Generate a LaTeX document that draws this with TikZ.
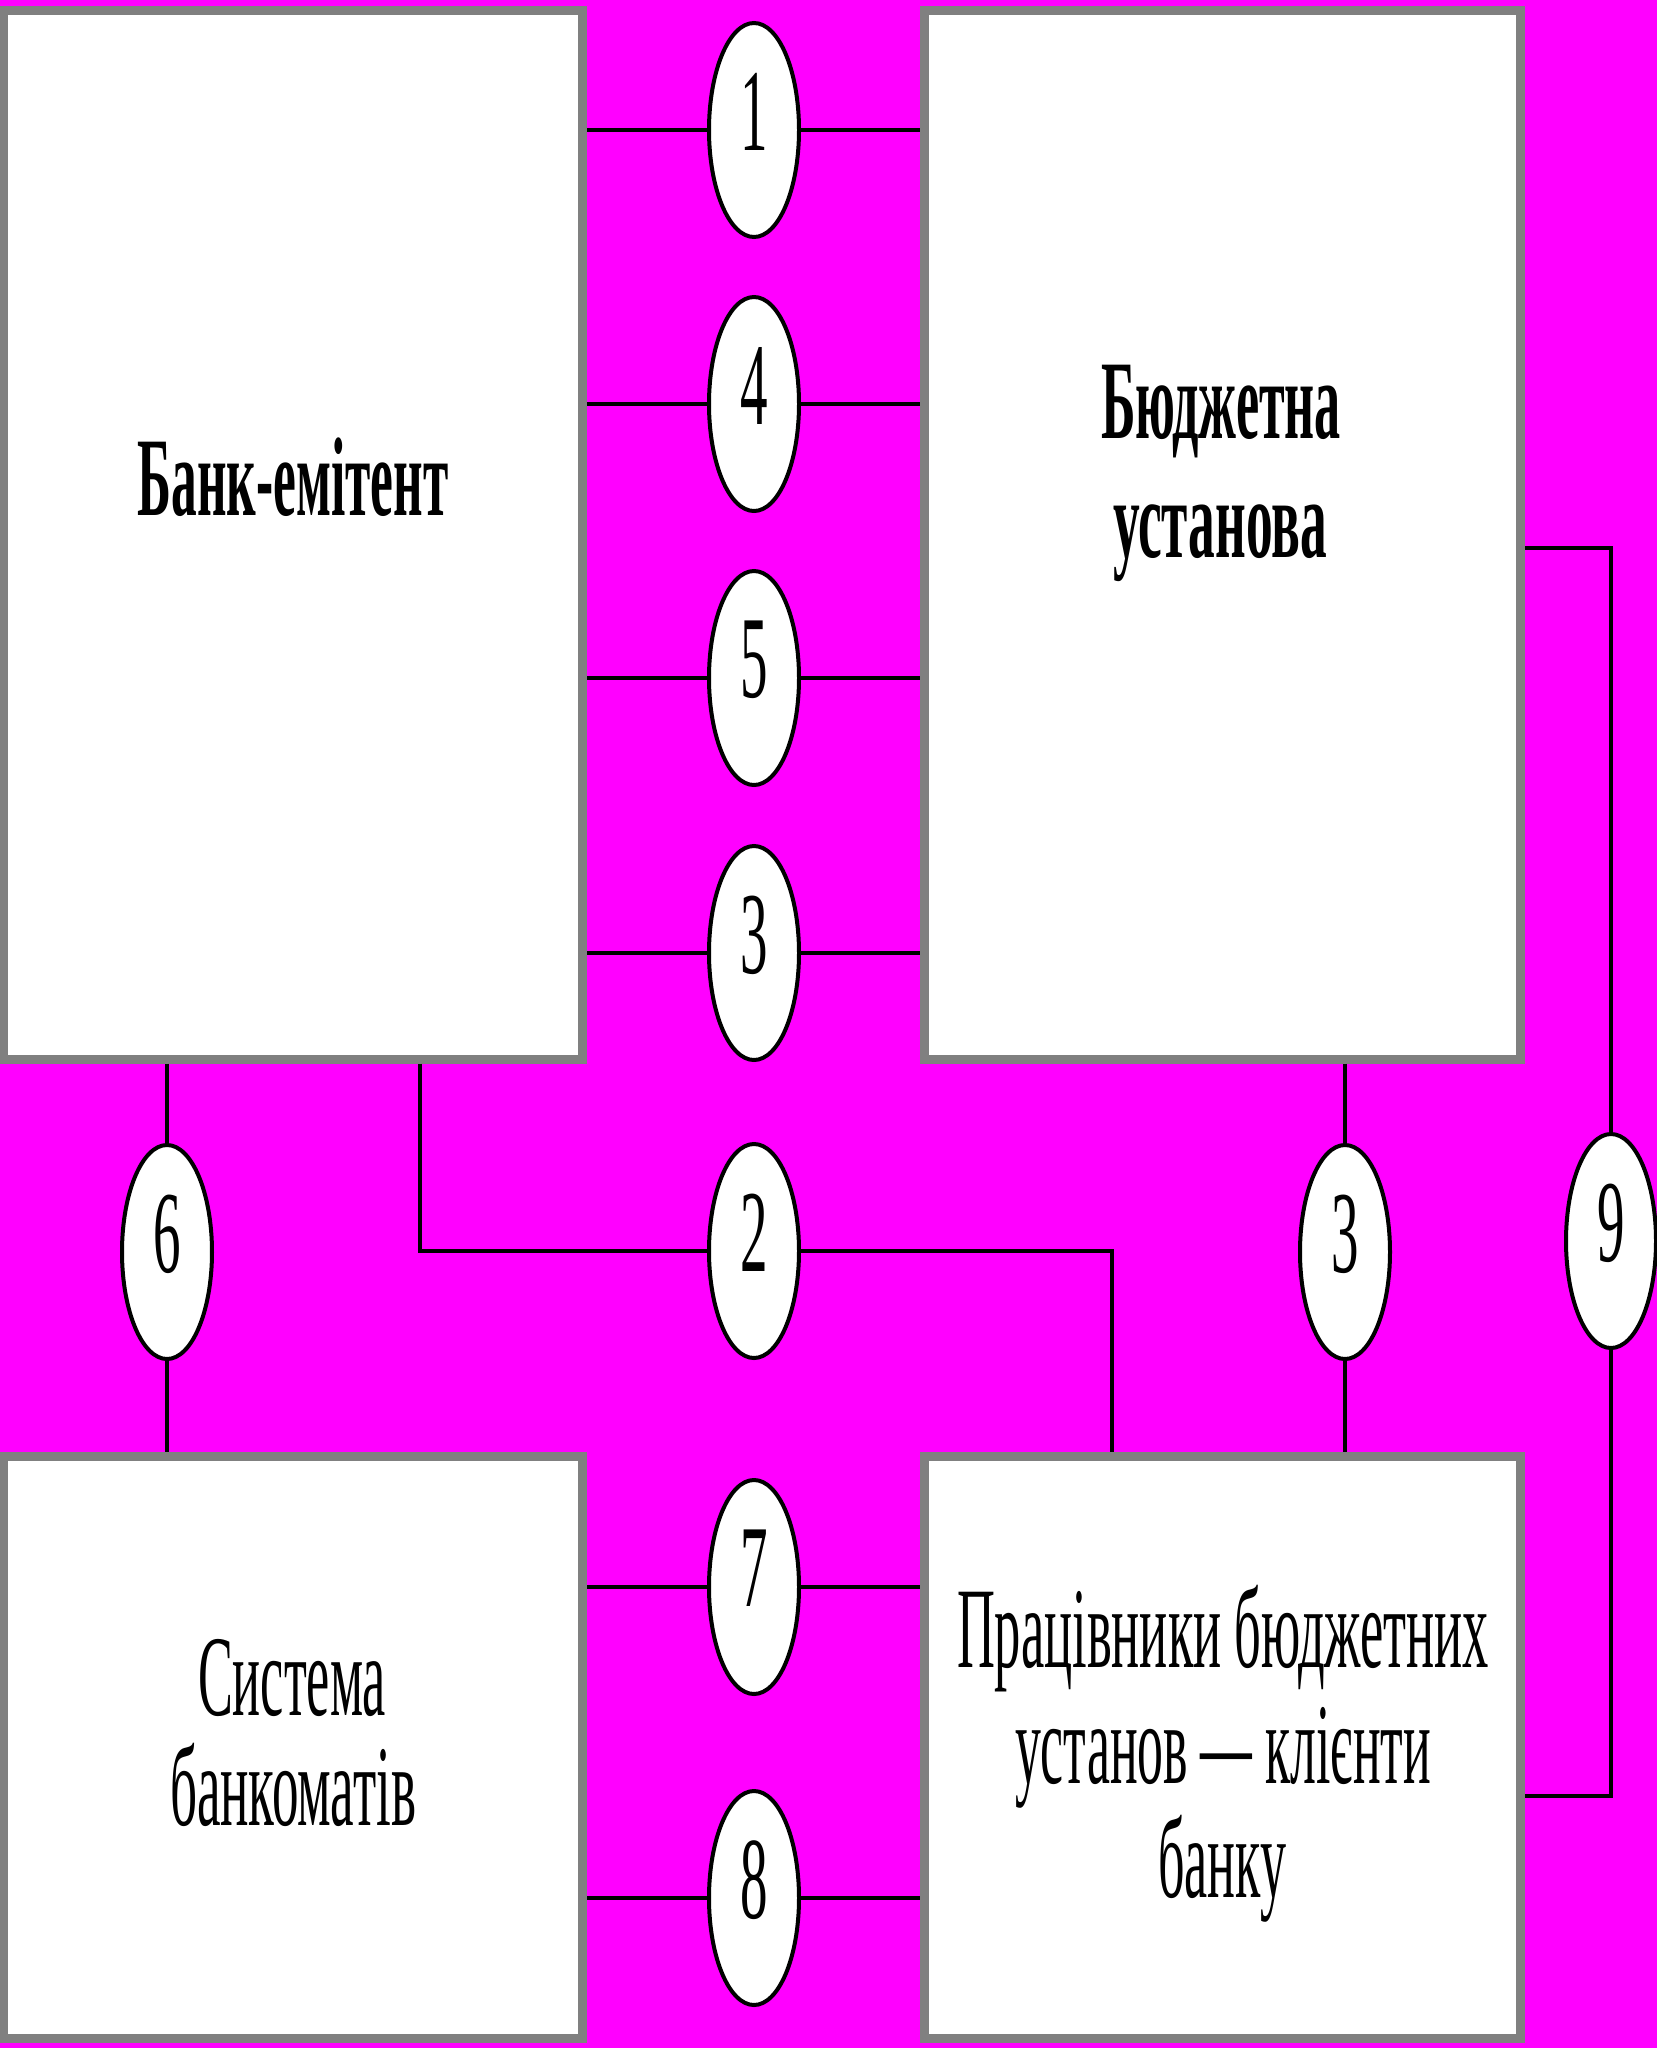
\documentclass[tikz,border=0pt]{standalone}
\usepackage{fontspec}
\setmainfont{Liberation Serif}
\usetikzlibrary{shapes.geometric}
\definecolor{bg}{RGB}{255,0,255}
\definecolor{bord}{RGB}{128,128,128}
\newcommand{\sqz}[2]{\resizebox{#1pt}{\height}{#2}}
\newcommand{\dg}[1]{\scalebox{0.47}[1]{#1}}
\begin{document}
\begin{tikzpicture}[x=1pt,y=-1pt,
 box/.style={draw=bord,line width=9pt,fill=white,rectangle,inner sep=0pt},
 oval/.style={ellipse,draw=black,line width=4pt,fill=white,inner sep=0pt,minimum width=90pt,minimum height=214pt,font=\fontsize{117}{117}\selectfont,text depth=37pt},
 conn/.style={line width=4pt,black},
 rtxt/.style={anchor=base,inner sep=0pt,font=\fontsize{115}{115}\selectfont},
 btxt/.style={anchor=base,inner sep=0pt,font=\fontsize{112}{112}\selectfont\bfseries}]
\useasboundingbox (0,0) rectangle (1657,2048);
\fill[bg] (0,0) rectangle (1657,2048);
% boxes
\node[box,minimum width=579pt,minimum height=1048.5pt] (bank) at (293,534.75) {};
\node[box,minimum width=596pt,minimum height=1048.5pt] (budget) at (1222.5,534.75) {};
\node[box,minimum width=579pt,minimum height=582.5pt] (atm) at (293,1747.25) {};
\node[box,minimum width=596pt,minimum height=582.5pt] (staff) at (1222.5,1747.25) {};
% ovals
\node[oval] (e1) at (754,130) {\dg{1}};
\node[oval] (e4) at (754,404) {\dg{4}};
\node[oval] (e5) at (754,678) {\dg{5}};
\node[oval] (e3a) at (754,953) {\dg{3}};
\node[oval] (e2) at (754,1251) {\dg{2}};
\node[oval] (e7) at (754,1587) {\dg{7}};
\node[oval] (e8) at (754,1898) {\dg{8}};
\node[oval] (e6) at (167,1252) {\dg{6}};
\node[oval] (e3b) at (1345,1252) {\dg{3}};
\node[oval] (e9) at (1611,1241) {\dg{9}};
% connectors
\foreach \e in {e1,e4,e5,e3a}{
  \draw[conn] (bank.east |- \e) -- (\e);
  \draw[conn] (\e) -- (budget.west |- \e);
}
\foreach \e in {e7,e8}{
  \draw[conn] (atm.east |- \e) -- (\e);
  \draw[conn] (\e) -- (staff.west |- \e);
}
\draw[conn] (bank.south -| e6) -- (e6);
\draw[conn] (e6) -- (atm.north -| e6);
\coordinate (b2) at (420,1251);
\coordinate (b2r) at (1112,1251);
\draw[conn] (bank.south -| b2) -- (b2) -- (e2);
\draw[conn] (e2) -- (b2r) -- (staff.north -| b2r);
\draw[conn] (budget.south -| e3b) -- (e3b);
\draw[conn] (e3b) -- (staff.north -| e3b);
\coordinate (t9) at (1611,548);
\coordinate (b9) at (1611,1796);
\draw[conn] (budget.east |- t9) -- (t9) -- (e9);
\draw[conn] (e9) -- (b9) -- (staff.east |- b9);
% texts
\node[btxt] (tbank) at (293,515) {\sqz{311}{Банк-емітент}};
\node[btxt] (tbud1) at (1221,438) {\sqz{240}{Бюджетна}};
\node[btxt] (tbud2) at (1220,557) {\sqz{214}{установа}};
\node[rtxt] (tatm1) at (292,1715) {\sqz{188}{Система}};
\node[rtxt] (tatm2) at (293,1825) {\sqz{246}{банкоматів}};
\node[rtxt] (tst1) at (1223,1667) {\sqz{532}{Працівники бюджетних}};
\node[rtxt] (tst2) at (1223,1783) {\sqz{416}{установ — клієнти}};
\node[rtxt] (tst3) at (1222,1897) {\sqz{128}{банку}};
\end{tikzpicture}
\end{document}
